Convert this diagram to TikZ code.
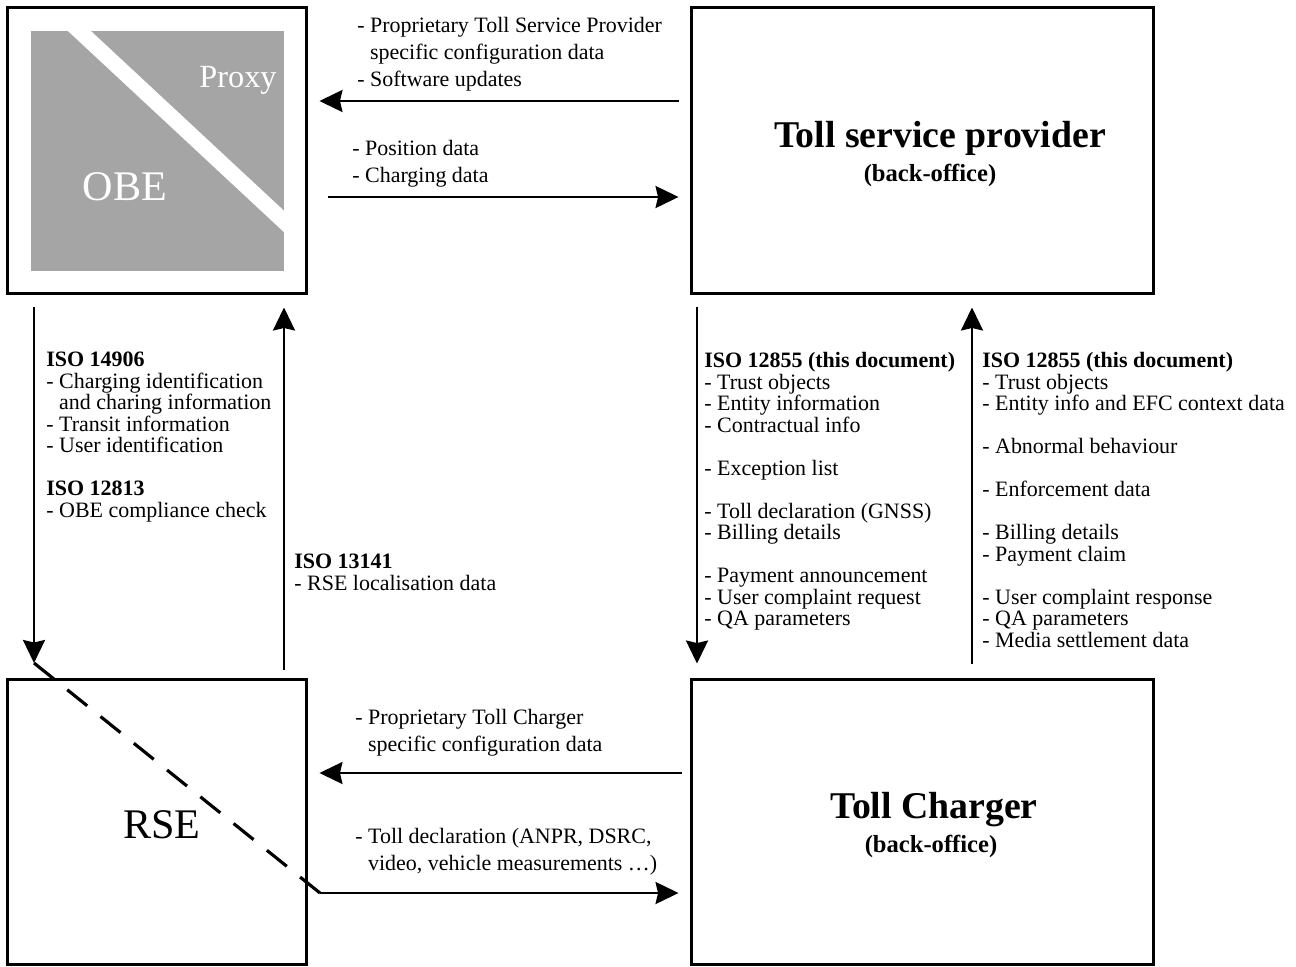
\documentclass[tikz,border=0pt]{standalone}
\usepackage{fontspec}
\setmainfont{Liberation Serif}
\usetikzlibrary{arrows.meta}
\definecolor{obegray}{HTML}{A5A5A5}

\begin{document}
\begin{tikzpicture}[x=0.02cm, y=-0.02cm,
    box/.style={draw, line width=1.7pt, inner sep=0pt},
    flow/.style={-{Stealth[length=0.46cm, width=0.44cm, inset=0.05cm]}, line width=1.4pt},
    note/.style={anchor=north west, align=left, inner sep=0pt, font=\fontsize{12.5}{12.24}\selectfont},
    wide/.style={note, font=\fontsize{12.5}{15.4}\selectfont},
    title/.style={anchor=base, inner sep=0pt, font=\bfseries\fontsize{21.5}{24}\selectfont},
    sub/.style={anchor=base, inner sep=0pt, font=\bfseries\fontsize{14}{16}\selectfont}]
  \useasboundingbox (0,0) rectangle (1296,967);

  \node[box, minimum width=6cm, minimum height=5.74cm] (obe) at (157,150.5) {};
  \node[box, minimum width=9.26cm, minimum height=5.74cm] (tsp) at (922.5,150.5) {};
  \node[box, minimum width=6cm, minimum height=5.72cm] (rse) at (157,822) {};
  \node[box, minimum width=9.26cm, minimum height=5.72cm] (tc) at (922.5,822) {};

  \begin{scope}
    \clip (31,31) rectangle (284,271);
    \fill[obegray] (31,31) rectangle (284,271);
    \draw[white, line width=0.314cm] (59,12) -- (305,241);
  \end{scope}
  \node[anchor=base, inner sep=0pt, white, font=\fontsize{18.4}{20}\selectfont] (proxy) at (238,87) {Proxy};
  \node[anchor=base, inner sep=0pt, white, font=\fontsize{24}{26}\selectfont] (obetxt) at (125,200) {OBE};
  \node[anchor=base, inner sep=0pt, font=\fontsize{24}{26}\selectfont] (rsetxt) at (162,838) {RSE};
  \node[title] (tsptxt) at (940,147) {Toll service provider};
  \node[sub] (tspsub) at (930,181) {(back-office)};
  \node[title] (tctxt) at (934,818) {Toll Charger};
  \node[sub] (tcsub) at (931,852) {(back-office)};

  \coordinate (tip) at (34,663);
  \coordinate (kink) at (320,893);
  \draw[flow, shorten <=0.22cm, shorten >=0.22cm] (tsp.west |- 0,101) -- (obe.east |- 0,101);
  \draw[flow, shorten <=0.4cm, shorten >=0.22cm] (obe.east |- 0,197) -- (tsp.west |- 0,197);
  \draw[flow, shorten <=0.24cm] (obe.south -| tip) -- (tip);
  \draw[flow, shorten <=0.16cm, shorten >=0.24cm] (rse.north -| 284,0) -- (obe.south -| 284,0);
  \draw[flow, shorten <=0.24cm, shorten >=0.28cm] (tsp.south -| 697,0) -- (tc.north -| 697,0);
  \draw[flow, shorten <=0.28cm, shorten >=0.24cm] (tc.north -| 972,0) -- (tsp.south -| 972,0);
  \draw[flow, shorten <=0.16cm, shorten >=0.22cm] (tc.west |- 0,773) -- (rse.east |- 0,773);
  \draw[flow, shorten >=0.22cm] (kink) -- (tc.west |- kink);
  \draw[line width=1.8pt, dash pattern=on 0.512cm off 0.342cm] (tip) -- (kink);

  \node[wide] (tspcfg) at (357,17) {- Proprietary Toll Service Provider\\\hphantom{- }specific configuration data\\- Software updates};
  \node[wide] (posdata) at (352,140) {- Position data\\- Charging data};
  \node[note] (iso14906) at (46,352) {\textbf{ISO 14906}\\- Charging identification\\\hphantom{- }and charing information\\- Transit information\\- User identification\\[12.24pt]\textbf{ISO 12813}\\- OBE compliance check};
  \node[note] (iso13141) at (294,554) {\textbf{ISO 13141}\\- RSE localisation data};
  \node[note] (todown) at (704,352) {\textbf{ISO 12855 (this document)}\\- Trust objects\\- Entity information\\- Contractual info\\[12.24pt]- Exception list\\[12.24pt]- Toll declaration (GNSS)\\- Billing details\\[12.24pt]- Payment announcement\\- User complaint request\\- QA parameters};
  \node[note] (toup) at (982,352) {\textbf{ISO 12855 (this document)}\\- Trust objects\\- Entity info and EFC context data\\[12.24pt]- Abnormal behaviour\\[12.24pt]- Enforcement data\\[12.24pt]- Billing details\\- Payment claim\\[12.24pt]- User complaint response\\- QA parameters\\- Media settlement data};
  \node[wide] (tccfg) at (355,709) {- Proprietary Toll Charger\\\hphantom{- }specific configuration data};
  \node[wide] (decl) at (355,828) {- Toll declaration (ANPR, DSRC,\\\hphantom{- }video, vehicle measurements …)};
\end{tikzpicture}
\end{document}
